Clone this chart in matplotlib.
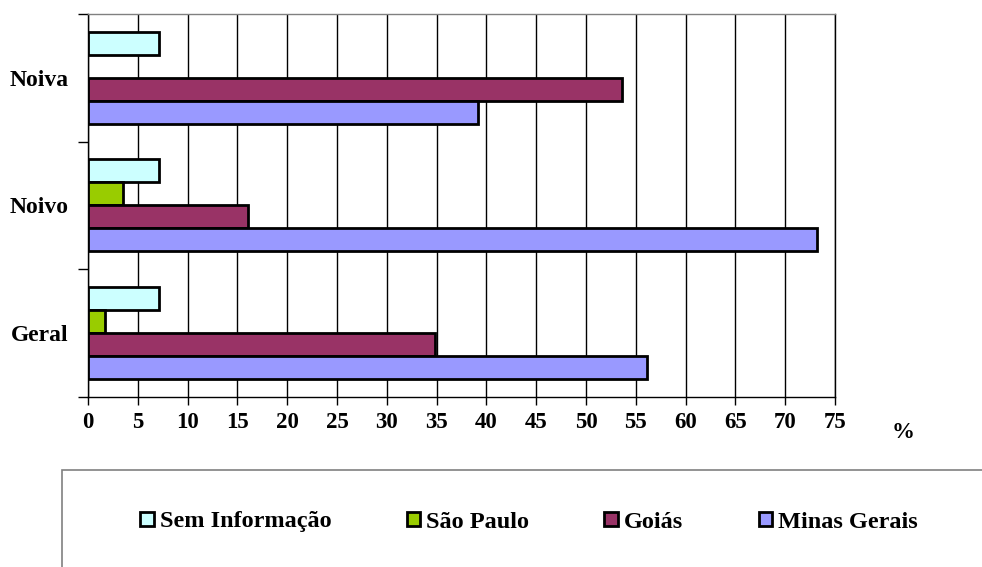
import numpy as np
import matplotlib.pyplot as plt
from matplotlib.patches import Rectangle

plt.rcParams["font.family"] = ["Liberation Serif", "DejaVu Serif"]
plt.rcParams["font.weight"] = "bold"

categories = ["Geral", "Noivo", "Noiva"]
series_names = ["Sem Informação", "São Paulo", "Goiás", "Minas Gerais"]
sem_info = [7.1, 7.1, 7.1]
sao_paulo = [1.7, 3.5, 0.0]
goias = [34.8, 16.1, 53.6]
minas = [56.1, 73.2, 39.2]
colors = ["#CCFFFF", "#99CC00", "#993366", "#9999FF"]

fig = plt.figure(figsize=(9.82, 5.67), dpi=100)
ax = fig.add_axes([0.0896, 0.300, 0.7607, 0.6755])

y = np.arange(len(categories))
h = 0.18
offsets = [1.5 * h, 0.5 * h, -0.5 * h, -1.5 * h]
values = [sem_info, sao_paulo, goias, minas]
for vals, off, col, name in zip(values, offsets, colors, series_names):
    v = np.array(vals)
    yy = y + off
    mask = v > 0
    ax.barh(yy[mask], v[mask], height=h, color=col, edgecolor="black",
            linewidth=2, label=name, zorder=3)

ax.set_xlim(0, 75)
ax.set_ylim(-0.5, 2.5)
ax.set_xticks(np.arange(0, 76, 5))
ax.xaxis.grid(True, color="black", linewidth=1, zorder=0)
ax.set_yticks(y)
ax.set_yticklabels(categories)
ax.set_yticks(np.arange(-0.5, 2.6, 1), minor=True)
ax.tick_params(axis="y", which="major", length=0, pad=14, labelsize=17)
ax.tick_params(axis="y", which="minor", length=7, width=1, direction="out")
ax.tick_params(axis="x", length=6, width=1, direction="out", labelsize=16.5, pad=5)
for lab in ax.get_xticklabels() + ax.get_yticklabels():
    lab.set_fontweight("bold")

ax.spines["top"].set_color("#808080")
ax.spines["right"].set_color("black")
for s in ax.spines.values():
    s.set_linewidth(1)

fig.text(903 / 982, 1 - 432 / 567, "%", fontsize=16.5, fontweight="bold",
         ha="center", va="center")

# legend box running off the right/bottom edges
fig.patches.append(Rectangle((62 / 982, -0.05), 1.0, 0.05 + (567 - 470) / 567,
                             transform=fig.transFigure, facecolor="none",
                             edgecolor="#808080", linewidth=1.2))

leg = fig.legend(loc="center", bbox_to_anchor=(529 / 982, 1 - 522 / 567),
                 ncol=4, frameon=False, fontsize=17.5, handlelength=0.55,
                 handleheight=0.55, handletextpad=0.25, columnspacing=3.1)
for t in leg.get_texts():
    t.set_fontweight("bold")

fig.savefig("out.png", dpi=100)
